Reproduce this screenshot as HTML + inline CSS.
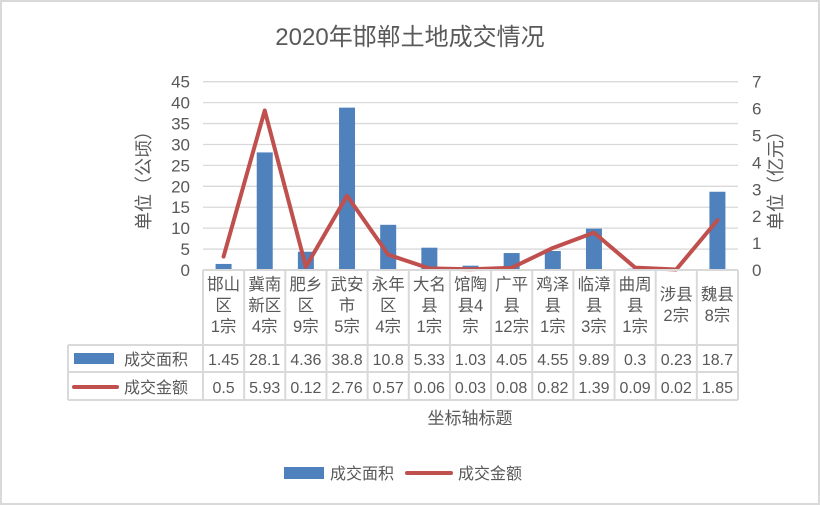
<!DOCTYPE html>
<html><head><meta charset="utf-8"><style>
body{margin:0;background:#fff}
svg{display:block;font-family:"Liberation Sans","Noto Sans CJK SC",sans-serif}
</style></head><body>
<svg id="c" width="820" height="505" viewBox="0 0 820 505">
<rect x="1" y="1" width="818" height="503" fill="#fff" stroke="#d9d9d9" stroke-width="2"/>
<text x="410" y="45" text-anchor="middle" font-size="24" fill="#595959">2020年邯郸土地成交情况</text>
<g id="grid"></g><g id="bars"></g><g id="line"></g><g id="axes"></g><g id="table"></g>
<text transform="translate(150,176) rotate(-90)" text-anchor="middle" font-size="18" fill="#595959">单位（公顷）</text>
<text transform="translate(782,176) rotate(-90)" text-anchor="middle" font-size="18" fill="#595959">单位（亿元）</text>
<text x="470" y="424" text-anchor="middle" font-size="17" fill="#595959">坐标轴标题</text>
<g>
<rect x="284" y="467" width="40" height="12" fill="#4f81bd"/>
<text x="330" y="479" font-size="16" fill="#595959">成交面积</text>
<line x1="407" y1="473" x2="451" y2="473" stroke="#c0504d" stroke-width="4" stroke-linecap="round"/>
<text x="458" y="479" font-size="16" fill="#595959">成交金额</text>
</g>
</svg>
<script>
const categories=[["邯山","区","1宗"],["冀南","新区","4宗"],["肥乡","区","9宗"],["武安","市","5宗"],["永年","区","4宗"],["大名","县","1宗"],["馆陶","县4","宗"],["广平","县","12宗"],["鸡泽","县","1宗"],["临漳","县","3宗"],["曲周","县","1宗"],["涉县","2宗"],["魏县","8宗"]];
const areaValues=[1.45,28.1,4.36,38.8,10.8,5.33,1.03,4.05,4.55,9.89,0.3,0.23,18.7];
const amountValues=[0.5,5.93,0.12,2.76,0.57,0.06,0.03,0.08,0.82,1.39,0.09,0.02,1.85];
const leftTicks=[0,5,10,15,20,25,30,35,40,45];
const rightTicks=[0,1,2,3,4,5,6,7];
const NS="http://www.w3.org/2000/svg";
const X0=203,X1=738,Y0=270,YT=81.7,n=categories.length,bw=(X1-X0)/n;
const yL=v=>Y0-(v/45)*(Y0-YT), yR=v=>Y0-(v/7)*(Y0-YT), xc=i=>X0+bw*(i+0.5);
function mk(t,a,p){const e=document.createElementNS(NS,t);for(const k in a)e.setAttribute(k,a[k]);document.getElementById(p).appendChild(e);return e;}
leftTicks.forEach(v=>{
 const l=mk('line',{x1:X0,x2:X1,y1:yL(v),y2:yL(v),stroke:'#d9d9d9','stroke-width':1.3},'grid');
 
 
 const t=mk('text',{x:190,y:yL(v)+6,'text-anchor':'end','font-size':17,fill:'#595959'},'axes');t.textContent=v;
 
 
});
rightTicks.forEach(v=>{
 const t=mk('text',{x:752,y:yR(v)+6,'font-size':17,fill:'#595959'},'axes');t.textContent=v;
 
 
});
areaValues.forEach((v,i)=>{
 const r=mk('rect',{x:xc(i)-8,y:yL(v),width:16,height:Y0-yL(v),fill:'#4f81bd'},'bars');
 
 
});
const pl=mk('polyline',{points:amountValues.map((v,i)=>xc(i)+','+yR(v)).join(' '),fill:'none',stroke:'#c0504d','stroke-width':4,'stroke-linejoin':'round','stroke-linecap':'round'},'line');


// table
const TL=68,R1=345,R2=372,R3=400,gs={stroke:'#d9d9d9','stroke-width':2};
[[X0,Y0,X1,Y0],[TL,R1,X1,R1],[TL,R2,X1,R2],[TL,R3,X1,R3],[TL,R1,TL,R3]].forEach(a=>{const l=mk('line',Object.assign({x1:a[0],y1:a[1],x2:a[2],y2:a[3]},gs),'table');});
for(let i=0;i<=n;i++){const l=mk('line',Object.assign({x1:X0+bw*i,x2:X0+bw*i,y1:Y0,y2:R3},gs),'table');}
categories.forEach((c,i)=>{
 const top=c.length===2?300:290;
 c.forEach((s,j)=>{const t=mk('text',{x:xc(i),y:top+j*21,'text-anchor':'middle','font-size':16.5,fill:'#595959'},'table');t.textContent=s;
 
 });
 const a=mk('text',{x:xc(i),y:365,'text-anchor':'middle','font-size':16,fill:'#595959'},'table');a.textContent=areaValues[i];
 
 
 const b=mk('text',{x:xc(i),y:393,'text-anchor':'middle','font-size':16,fill:'#595959'},'table');b.textContent=amountValues[i];
 
 
});
let e=mk('rect',{x:74,y:353,width:40,height:11,fill:'#4f81bd'},'table');
e=mk('line',{x1:74,x2:117,y1:387,y2:387,stroke:'#c0504d','stroke-width':4,'stroke-linecap':'round'},'table');
e=mk('text',{x:124,y:365,'font-size':16,fill:'#595959'},'table');e.textContent='成交面积';
e=mk('text',{x:124,y:393,'font-size':16,fill:'#595959'},'table');e.textContent='成交金额';
</script>
</body></html>
